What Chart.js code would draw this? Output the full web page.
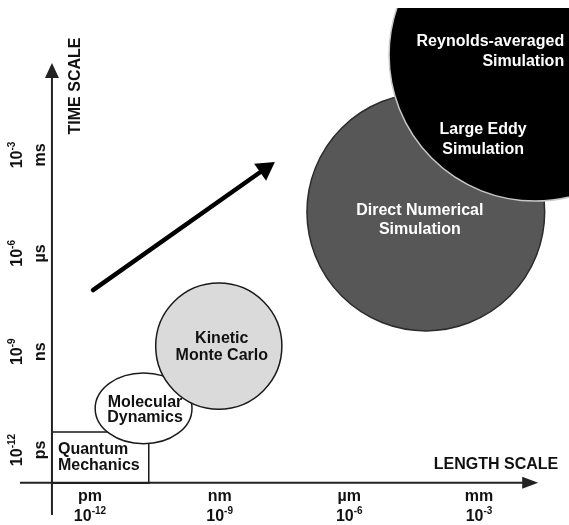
<!DOCTYPE html>
<html>
<head>
<meta charset="utf-8">
<script src="https://cdn.jsdelivr.net/npm/chart.js@4/dist/chart.umd.min.js"></script>
<style>
  html, body { margin: 0; padding: 0; background: #fff; }
  canvas { display: block; }
</style>
</head>
<body>
<canvas id="chart" width="569" height="525"></canvas>
<script>
// everything is in log10 units: length in metres (x), time in seconds (y)
const lengthTicks = [-12, -9, -6, -3];
const lengthUnits = ["pm", "nm", "\u00b5m", "mm"];
const timeTicks = [-12, -9, -6, -3];
const timeUnits = ["ps", "ns", "\u00b5s", "ms"];

const regions = [
  "Quantum Mechanics",
  "Molecular Dynamics",
  "Kinetic Monte Carlo",
  "Direct Numerical Simulation",
  "Large Eddy / Reynolds-averaged Simulation"
];
const regionShape = ["rect", "ellipse", "circle", "circle", "circle"];
const lengthMid = [-11.76, -10.76, -9.02, -4.23, -1.70];
const timeMid = [-12.23, -10.73, -8.83, -4.74, 0.05];
const lengthHalf = [1.12, 1.12, 1.46, 2.75, 3.38];
const timeHalf = [0.78, 1.08, 1.92, 3.63, 4.45];

// trend arrow: small & fast -> large & slow
const trendLength = [-11.93, -7.95];
const trendTime = [-7.12, -3.42];

// axes (log units)
const axisAt = { length: -12.88, time: -13.0 };
const axisFrom = { length: -13.62, time: -13.98 };
const axisTo = { length: -1.63, time: -0.19 };

const family = "'Liberation Sans', Arial, Helvetica, sans-serif";
const fills = ["#ffffff", "#ffffff", "#dadada", "#575757", "#000000"];
const strokes = ["#1a1a1a", "#1a1a1a", "#1a1a1a", "#2b2b2b", "#c8c8c8"];

const labelBlocks = [
  { region: 0, lines: ["Quantum", "Mechanics"], dx: -42.4, dy: -7.6, gap: 16, align: "left", color: "#111" },
  { region: 1, lines: ["Molecular", "Dynamics"], dx: 1.4, dy: -5.4, gap: 15, align: "center", color: "#111" },
  { region: 2, lines: ["Kinetic", "Monte Carlo"], dx: 3, dy: -8, gap: 17, align: "center", color: "#111" },
  { region: 3, lines: ["Direct Numerical", "Simulation"], dx: -6, dy: -1, gap: 19, align: "center", color: "#fff" },
  { region: 4, lines: ["Large Eddy", "Simulation"], dx: -52, dy: 75, gap: 20, align: "center", color: "#fff" },
  { region: 4, lines: ["Reynolds-averaged", "Simulation"], dx: 29, dy: -13, gap: 20, align: "right", color: "#fff" }
];

const px = (chart, l) => chart.scales.x.getPixelForValue(l);
const py = (chart, t) => chart.scales.y.getPixelForValue(t);

function powerLabel(ctx, x, y, base, sup) {
  ctx.font = "bold 16px " + family;
  const wb = ctx.measureText(base).width;
  ctx.font = "bold 10px " + family;
  const ws = ctx.measureText(sup).width;
  const start = x - (wb + ws) / 2;
  ctx.textAlign = "left";
  ctx.font = "bold 16px " + family;
  ctx.fillText(base, start, y);
  ctx.font = "bold 10px " + family;
  ctx.fillText(sup, start + wb, y - 6);
}

const diagram = {
  id: "diagram",
  beforeDatasetsDraw(chart) {
    const ctx = chart.ctx;
    const area = chart.chartArea;
    ctx.save();
    ctx.beginPath();
    ctx.rect(area.left, area.top, area.right - area.left, area.bottom - area.top);
    ctx.clip();
    // regions: rectangle, ellipse, circles
    regions.forEach((name, i) => {
      const cx = px(chart, lengthMid[i]);
      const cy = py(chart, timeMid[i]);
      const rx = px(chart, lengthMid[i] + lengthHalf[i]) - cx;
      const ry = py(chart, timeMid[i] - timeHalf[i]) - cy;
      ctx.beginPath();
      if (regionShape[i] === "rect") ctx.rect(cx - rx, cy - ry, 2 * rx, 2 * ry);
      else if (regionShape[i] === "ellipse") ctx.ellipse(cx, cy, rx, ry, 0, 0, Math.PI * 2);
      else ctx.arc(cx, cy, rx, 0, Math.PI * 2);
      ctx.fillStyle = fills[i];
      ctx.fill();
      ctx.lineWidth = 1.5;
      ctx.strokeStyle = strokes[i];
      ctx.stroke();
    });
    ctx.restore();

    // axes with arrow heads
    ctx.save();
    const x0 = px(chart, axisAt.length), y0 = py(chart, axisAt.time);
    ctx.strokeStyle = "#222";
    ctx.fillStyle = "#222";
    ctx.lineWidth = 2;
    const xa = px(chart, axisFrom.length), xb = px(chart, axisTo.length);
    ctx.beginPath(); ctx.moveTo(xa, y0); ctx.lineTo(xb - 10, y0); ctx.stroke();
    ctx.beginPath(); ctx.moveTo(xb, y0); ctx.lineTo(xb - 16, y0 - 6); ctx.lineTo(xb - 16, y0 + 6); ctx.closePath(); ctx.fill();
    const ya = py(chart, axisFrom.time), yb = py(chart, axisTo.time);
    ctx.beginPath(); ctx.moveTo(x0, ya); ctx.lineTo(x0, yb + 10); ctx.stroke();
    ctx.beginPath(); ctx.moveTo(x0, yb); ctx.lineTo(x0 - 7, yb + 15); ctx.lineTo(x0 + 7, yb + 15); ctx.closePath(); ctx.fill();
    ctx.restore();
  },
  afterDatasetsDraw(chart) {
    const ctx = chart.ctx;
    const x0 = px(chart, axisAt.length), y0 = py(chart, axisAt.time);
    ctx.save();
    ctx.textBaseline = "middle";
    ctx.fillStyle = "#111";

    // length ticks
    lengthTicks.forEach((v, i) => {
      const x = px(chart, v);
      ctx.font = "bold 16px " + family;
      ctx.textAlign = "center";
      ctx.fillText(lengthUnits[i], x, y0 + 14);
      powerLabel(ctx, x, y0 + 34, "10", String(v));
    });
    // time ticks (rotated)
    timeTicks.forEach((v, i) => {
      const y = py(chart, v);
      ctx.save();
      ctx.translate(x0 - 34, y);
      ctx.rotate(-Math.PI / 2);
      powerLabel(ctx, 0, 0, "10", String(v));
      ctx.restore();
      ctx.save();
      ctx.translate(x0 - 11, y);
      ctx.rotate(-Math.PI / 2);
      ctx.font = "bold 16px " + family;
      ctx.textAlign = "center";
      ctx.fillText(timeUnits[i], 0, 0);
      ctx.restore();
    });

    // axis titles
    ctx.font = "bold 16px " + family;
    ctx.textAlign = "center";
    ctx.fillText("LENGTH SCALE", 496, 465);
    ctx.save();
    ctx.translate(76, 86);
    ctx.rotate(-Math.PI / 2);
    ctx.fillText("TIME SCALE", 0, 0);
    ctx.restore();

    // region labels
    labelBlocks.forEach(b => {
      const cx = px(chart, lengthMid[b.region]) + b.dx;
      const cy = py(chart, timeMid[b.region]) + b.dy;
      ctx.fillStyle = b.color;
      ctx.textAlign = b.align;
      ctx.font = "bold 16px " + family;
      b.lines.forEach((line, k) => ctx.fillText(line, cx, cy + k * b.gap));
    });
    ctx.restore();
  }
};

new Chart(document.getElementById("chart"), {
  type: "scatter",
  data: {
    datasets: [{
      type: "line",
      label: "trend",
      data: trendLength.map((l, i) => ({ x: l, y: trendTime[i] })),
      borderColor: "#000",
      borderWidth: 4.5,
      borderCapStyle: "round",
      pointRadius: [0, 12],
      pointStyle: "triangle",
      pointRotation: 55,
      pointBackgroundColor: "#000",
      pointBorderWidth: 0
    }]
  },
  options: {
    responsive: false,
    animation: false,
    events: [],
    layout: { padding: { top: 8, left: 0, right: 0, bottom: 0 }, autoPadding: false },
    plugins: {
      legend: { display: false },
      tooltip: { enabled: false }
    },
    scales: {
      x: { type: "linear", display: false, min: -14.082, max: -0.917 },
      y: { type: "linear", display: false, min: -14.287, max: 1.484 }
    }
  },
  plugins: [diagram]
});
</script>
</body>
</html>
